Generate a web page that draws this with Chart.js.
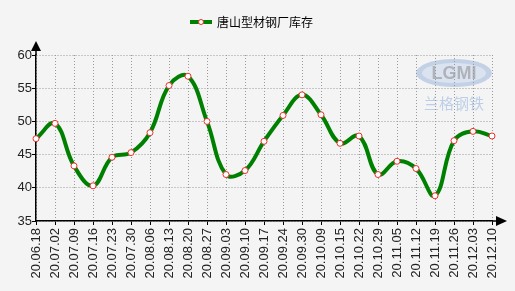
<!DOCTYPE html>
<html>
<head>
<meta charset="utf-8">
<script src="https://cdn.jsdelivr.net/npm/chart.js@4/dist/chart.umd.min.js"></script>
<style>
    html, body { margin: 0; padding: 0; background: #f4f4f4; }
    #wrap { width: 515px; height: 291px; position: relative; }
</style>
</head>
<body>
<div id="wrap"><canvas id="stockChart"></canvas></div>
<script>
// weekly dates (yy.mm.dd)
const categories = ['20.06.18', '20.07.02', '20.07.09', '20.07.16', '20.07.23', '20.07.30',
    '20.08.06', '20.08.13', '20.08.20', '20.08.27', '20.09.03', '20.09.10', '20.09.17',
    '20.09.24', '20.09.30', '20.10.09', '20.10.15', '20.10.22', '20.10.29', '20.11.05',
    '20.11.12', '20.11.19', '20.11.26', '20.12.03', '20.12.10'];

// 唐山型材钢厂库存 (万吨)
const stockValues = [47.4, 49.7, 43.3, 40.3, 44.6, 45.3, 48.3, 55.4, 56.8, 50.0, 42.0, 42.6, 47.0,
    50.9, 54.0, 51.0, 46.7, 47.8, 42.0, 44.0, 42.9, 38.8, 47.1, 48.5, 47.8];

const seriesName = '唐山型材钢厂库存';
const yMin = 35;
const yMax = 60;
const yStep = 5;

const lineColor = '#008000';
const pointColor = '#e8322e';

// arrows on the axes, custom legend and the faint logo
const decorPlugin = {
    id: 'decor',
    beforeDraw(chart) {
        const ctx = chart.ctx;
        const area = chart.chartArea;
        // logo watermark
        const cx = area.right - 38, cy = area.top + 18;
        ctx.save();
        ctx.globalAlpha = 0.55;
        ctx.fillStyle = '#9ab4da';
        ctx.beginPath();
        ctx.ellipse(cx, cy, 38, 14, 0, 0, Math.PI * 2);
        ctx.fill();
        ctx.fillStyle = '#eef2f8';
        ctx.beginPath();
        ctx.ellipse(cx, cy, 32, 10, 0, 0, Math.PI * 2);
        ctx.fill();
        ctx.font = 'bold 18px "Liberation Sans", Arial, sans-serif';
        ctx.textAlign = 'center';
        ctx.textBaseline = 'middle';
        ctx.fillStyle = '#8a8a8a';
        ctx.fillText('LGMI', cx, cy + 1);
        ctx.font = '15px "Noto Sans CJK SC", sans-serif';
        ctx.fillStyle = '#8fb0dc';
        ctx.fillText('兰格钢铁', cx, cy + 30);
        ctx.restore();
    },
    afterDraw(chart) {
        const ctx = chart.ctx;
        const area = chart.chartArea;
        ctx.save();
        ctx.fillStyle = '#000';
        ctx.strokeStyle = '#000';
        ctx.lineWidth = 1.5;
        // y axis arrow
        ctx.beginPath();
        ctx.moveTo(area.left, area.top);
        ctx.lineTo(area.left, area.top - 5);
        ctx.stroke();
        ctx.beginPath();
        ctx.moveTo(area.left, area.top - 14);
        ctx.lineTo(area.left - 5, area.top - 4);
        ctx.lineTo(area.left + 5, area.top - 4);
        ctx.closePath();
        ctx.fill();
        // x axis arrow
        ctx.beginPath();
        ctx.moveTo(area.right, area.bottom);
        ctx.lineTo(area.right + 5, area.bottom);
        ctx.stroke();
        ctx.beginPath();
        ctx.moveTo(area.right + 15, area.bottom);
        ctx.lineTo(area.right + 4, area.bottom - 5);
        ctx.lineTo(area.right + 4, area.bottom + 5);
        ctx.closePath();
        ctx.fill();

        // legend
        const ly = 22;
        ctx.strokeStyle = lineColor;
        ctx.lineWidth = 4;
        ctx.beginPath();
        ctx.moveTo(190, ly);
        ctx.lineTo(212, ly);
        ctx.stroke();
        ctx.fillStyle = '#fff';
        ctx.strokeStyle = pointColor;
        ctx.lineWidth = 1;
        ctx.beginPath();
        ctx.arc(201, ly, 2.5, 0, Math.PI * 2);
        ctx.fill();
        ctx.stroke();
        ctx.fillStyle = '#000';
        ctx.font = '12px "Noto Sans CJK SC", sans-serif';
        ctx.textAlign = 'left';
        ctx.textBaseline = 'middle';
        ctx.fillText(seriesName, 217, ly);
        ctx.restore();
    }
};

const ctx = document.getElementById('stockChart').getContext('2d');
new Chart(ctx, {
    type: 'line',
    data: {
        labels: categories,
        datasets: [{
            label: seriesName,
            data: stockValues,
            borderColor: lineColor,
            borderWidth: 4,
            tension: 0.4,
            fill: false,
            pointRadius: 3,
            pointBorderWidth: 1,
            pointBackgroundColor: '#fff',
            pointBorderColor: pointColor
        }]
    },
    options: {
        responsive: true,
        maintainAspectRatio: false,
        animation: false,
        layout: {
            padding: { left: 0, right: 23, top: 55, bottom: 0 }
        },
        plugins: {
            legend: { display: false },
            tooltip: { enabled: false }
        },
        scales: {
            x: {
                offset: false,
                grid: {
                    color: '#9a9a9a',
                    tickColor: '#000',
                    tickLength: 4
                },
                border: { color: '#000', width: 1.5, dash: [1, 2] },
                ticks: {
                    autoSkip: false,
                    maxRotation: 90,
                    minRotation: 90,
                    padding: 3,
                    color: '#222',
                    font: { family: '"Liberation Sans", Arial, sans-serif', size: 13 }
                },
                afterFit(scale) { scale.height = 70; }
            },
            y: {
                min: yMin,
                max: yMax,
                grid: {
                    color: '#9a9a9a',
                    tickColor: '#000',
                    tickLength: 4
                },
                border: { color: '#000', width: 1.5, dash: [1, 2] },
                ticks: {
                    stepSize: yStep,
                    padding: 0,
                    color: '#222',
                    font: { family: '"Liberation Sans", Arial, sans-serif', size: 13 }
                },
                afterFit(scale) { scale.width = 36; }
            }
        }
    },
    plugins: [decorPlugin]
});
</script>
</body>
</html>
